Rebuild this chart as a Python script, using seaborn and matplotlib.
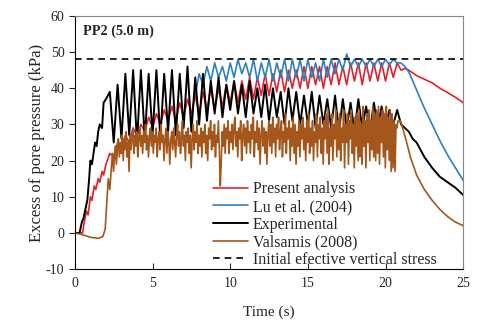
import numpy as np
import pandas as pd
import matplotlib
matplotlib.use("Agg")
import matplotlib.pyplot as plt
import seaborn as sns

# ---- data ----
# Present analysis (red)
red_t_start = [0, 0.5, 0.6, 0.75, 0.85, 1.0, 1.1, 1.25, 1.35, 1.5, 1.6, 1.75, 1.85, 2.0]
red_v_start = [0, 0, 3, 6, 5, 10, 9, 13, 12, 15, 14, 17, 16, 19]
red_osc = [22, 21, 25, 23, 27, 25, 29, 27, 30, 28, 32, 29, 33, 30, 34, 31,
           35, 31, 36, 32, 37, 33, 38, 33, 39, 34, 40, 34, 40, 35, 41, 36,
           42, 36, 42, 37, 43, 37, 43, 38, 44, 38, 44, 39, 45, 39, 45, 40,
           45, 40, 46, 40, 46, 41, 46, 40, 46, 41, 47, 41, 46, 41, 47, 42,
           47, 41, 47, 42, 47, 42, 47, 42, 47, 43, 47, 45]
red_t_end = [21.25, 21.5, 22.0, 22.5, 23.0, 23.5, 24.0, 24.5, 25.0]
red_v_end = [45.5, 45, 43.5, 42.5, 41.5, 40, 38.8, 37.5, 36]

# Lu et al. (2004) (blue)
blue_t_start = [7.75]
blue_v_start = [38]
blue_osc = [44, 41, 46, 42, 47, 43, 46, 42, 47, 43, 48, 44, 47, 43, 48, 42,
            47, 43, 48, 42, 47, 43, 48, 42, 48, 43, 48, 42, 48, 43, 47, 42,
            48, 43, 48, 44, 48, 45, 49.5, 46, 48, 46, 48, 46, 48, 46, 48, 46,
            48, 46.5, 48, 47, 47]
blue_t_end = [21.25, 21.5, 22.0, 22.5, 23.0, 23.5, 24.0, 24.5, 25.0]
blue_v_end = [46, 44.5, 39.5, 34.5, 30, 25.5, 21.5, 18, 14.5]

# Experimental (black)
blk_t_start = [0, 0.3, 0.45, 0.55, 0.7, 0.8, 0.9, 1.0, 1.1, 1.2, 1.3, 1.4,
               1.5, 1.6, 1.75, 1.85, 2.0]
blk_v_start = [0, 0, 3, 4, 7, 9, 14, 20, 19, 22, 25, 24, 28, 30, 29, 36, 37]
blk_osc = [39, 25, 41, 26, 44, 27, 45, 25, 45, 26, 44, 27, 45, 26, 44, 28,
           45, 27, 44, 29, 46, 28, 43, 30, 44, 31, 42, 33, 43, 32, 41, 34,
           42, 33, 41, 32, 42, 33, 40, 32, 41, 31, 40, 32, 39, 30, 40, 31,
           39, 30, 38, 30, 39, 29, 38, 30, 37, 29, 38, 28, 37, 29, 36, 28,
           37, 29, 35, 28, 36, 29, 35, 29, 34, 30, 34, 30]
blk_t_end = [21.25, 21.5, 21.75, 22.0, 22.5, 23.0, 23.5, 24.0, 24.5, 25.0]
blk_v_end = [29, 28, 26, 25, 21, 18, 15.5, 14, 12.5, 10.5]

# Valsamis (2008) (brown), one row per second of record
brn_t_start = [0, 0.5, 1.0, 1.5, 1.8, 1.95, 2.05, 2.15, 2.25]
brn_v_start = [0, -0.5, -1.2, -1.5, -1.0, 1, 8, 15, 12]
brn_osc = [15, 19, 22, 17, 21, 24, 19, 23, 26, 21, 25, 22, 27, 20, 26, 23,
           28, 21, 25, 17, 27, 23, 26, 29, 22, 27, 24, 28, 21, 26, 29, 24,
           27, 22, 28, 25, 30, 23, 27, 21, 26, 29, 24, 28, 22, 27, 25, 29,
           21, 26, 28, 23, 30, 25, 27, 20, 26, 29, 22, 28, 25, 19, 26, 28,
           23, 29, 25, 21, 27, 30, 24, 28, 22, 26, 31, 24, 27, 20, 28, 25,
           29, 22, 27, 18, 26, 30, 23, 28, 25, 31, 22, 27, 24, 29, 21, 28,
           25, 30, 22, 27, 20, 29, 26, 31, 23, 28, 24, 30, 21, 27, 25, 31,
           23, 13, 20, 28, 24, 30, 22, 29, 26, 31, 22, 28, 25, 30, 23, 29,
           32, 24, 28, 21, 29, 26, 31, 20, 27, 30, 24, 29, 22, 31, 25, 28,
           22, 30, 26, 32, 21, 28, 25, 31, 23, 29, 19, 27, 31, 24, 29, 22,
           28, 19, 27, 31, 24, 30, 22, 32, 25, 29, 21, 30, 26, 32, 23, 28,
           31, 21, 28, 25, 33, 22, 29, 26, 31, 20, 29, 24, 32, 22, 30, 19,
           28, 24, 31, 21, 30, 26, 32, 23, 29, 20, 31, 25, 33, 22, 29, 24,
           31, 20, 28, 25, 33, 21, 30, 26, 32, 22, 29, 19, 31, 26, 33, 22,
           34, 19, 29, 24, 33, 20, 30, 26, 34, 21, 31, 23, 33, 20, 29, 25,
           34, 18, 30, 25, 33, 19, 31, 26, 34, 22, 30, 18, 32, 24, 33, 20,
           34, 21, 30, 19, 35, 24, 31, 18, 33, 25, 34, 20, 31, 23, 35, 21,
           33, 20, 34, 22, 35, 19, 32, 25, 34, 21, 33, 18, 35, 23, 32, 20,
           34, 17, 33, 18, 31, 17, 30, 29, 31]
brn_t_end = [20.95, 21.1, 21.3, 21.6, 22.0, 22.5, 23.0, 23.5, 24.0, 24.5, 25.0]
brn_v_end = [31, 29, 26, 21, 16, 12, 9, 6.5, 4.5, 3, 2]

sigma_v0 = 48  # initial effective vertical stress


def build(t0, v0, osc_start, osc_step, osc, t1, v1):
    t_osc = osc_start + osc_step * np.arange(len(osc))
    t = np.concatenate([t0, t_osc, t1])
    v = np.concatenate([v0, osc, v1])
    return pd.DataFrame({"t": t, "p": v})


red = build(red_t_start, red_v_start, 2.25, 0.25, red_osc, red_t_end, red_v_end)
blue = build(blue_t_start, blue_v_start, 8.0, 0.25, blue_osc, blue_t_end, blue_v_end)
black = build(blk_t_start, blk_v_start, 2.25, 0.25, blk_osc, blk_t_end, blk_v_end)
brown = build(brn_t_start, brn_v_start, 2.3, 0.0625, brn_osc, brn_t_end, brn_v_end)

sns.set_style("ticks")
plt.rcParams["font.family"] = ["Liberation Serif", "DejaVu Serif"]
plt.rcParams["axes.unicode_minus"] = False

fig = plt.figure(figsize=(4.8, 3.25), dpi=100)
ax = fig.add_axes([0.156, 0.172, 0.809, 0.779])

kw = dict(x="t", y="p", ax=ax, estimator=None, sort=False)
sns.lineplot(data=red, color="#e3212b", label="Present analysis", linewidth=1.2, **kw)
sns.lineplot(data=blue, color="#2f7fc1", label="Lu et al. (2004)", linewidth=1.2, **kw)
sns.lineplot(data=black, color="black", label="Experimental", linewidth=1.4, **kw)
sns.lineplot(data=brown, color="#a5561b", label="Valsamis (2008)", linewidth=1.2, **kw)
ax.plot([0, 25], [sigma_v0, sigma_v0], color="black", linestyle=(0, (4, 3)),
        linewidth=1.2, label="Initial efective vertical stress")

ax.set_xlim(0, 25)
ax.set_ylim(-10, 60)
ax.set_xticks([0, 5, 10, 15, 20, 25])
ax.set_yticks(range(-10, 61, 10))
ax.tick_params(axis="x", direction="in", length=4, labelsize=10, pad=6)
ax.tick_params(axis="y", direction="out", length=4, labelsize=10)
ax.set_xlabel("Time (s)", fontsize=11, labelpad=11)
ax.set_ylabel("Excess of pore pressure (kPa)", fontsize=12, labelpad=1)

for side in ["top", "right"]:
    ax.spines[side].set_visible(True)
    ax.spines[side].set_color("#888888")
for side in ["left", "bottom"]:
    ax.spines[side].set_color("black")

ax.text(0.02, 0.94, "PP2 (5.0 m)", transform=ax.transAxes, fontsize=10.3,
        fontweight="bold", va="center", ha="left")

ax.legend(loc="lower left", bbox_to_anchor=(0.356, 0.005), frameon=False,
          fontsize=11.5, handlelength=2.2, labelspacing=0.1, handletextpad=0.3,
          borderpad=0, borderaxespad=0)

fig.savefig("out.png", dpi=100)
